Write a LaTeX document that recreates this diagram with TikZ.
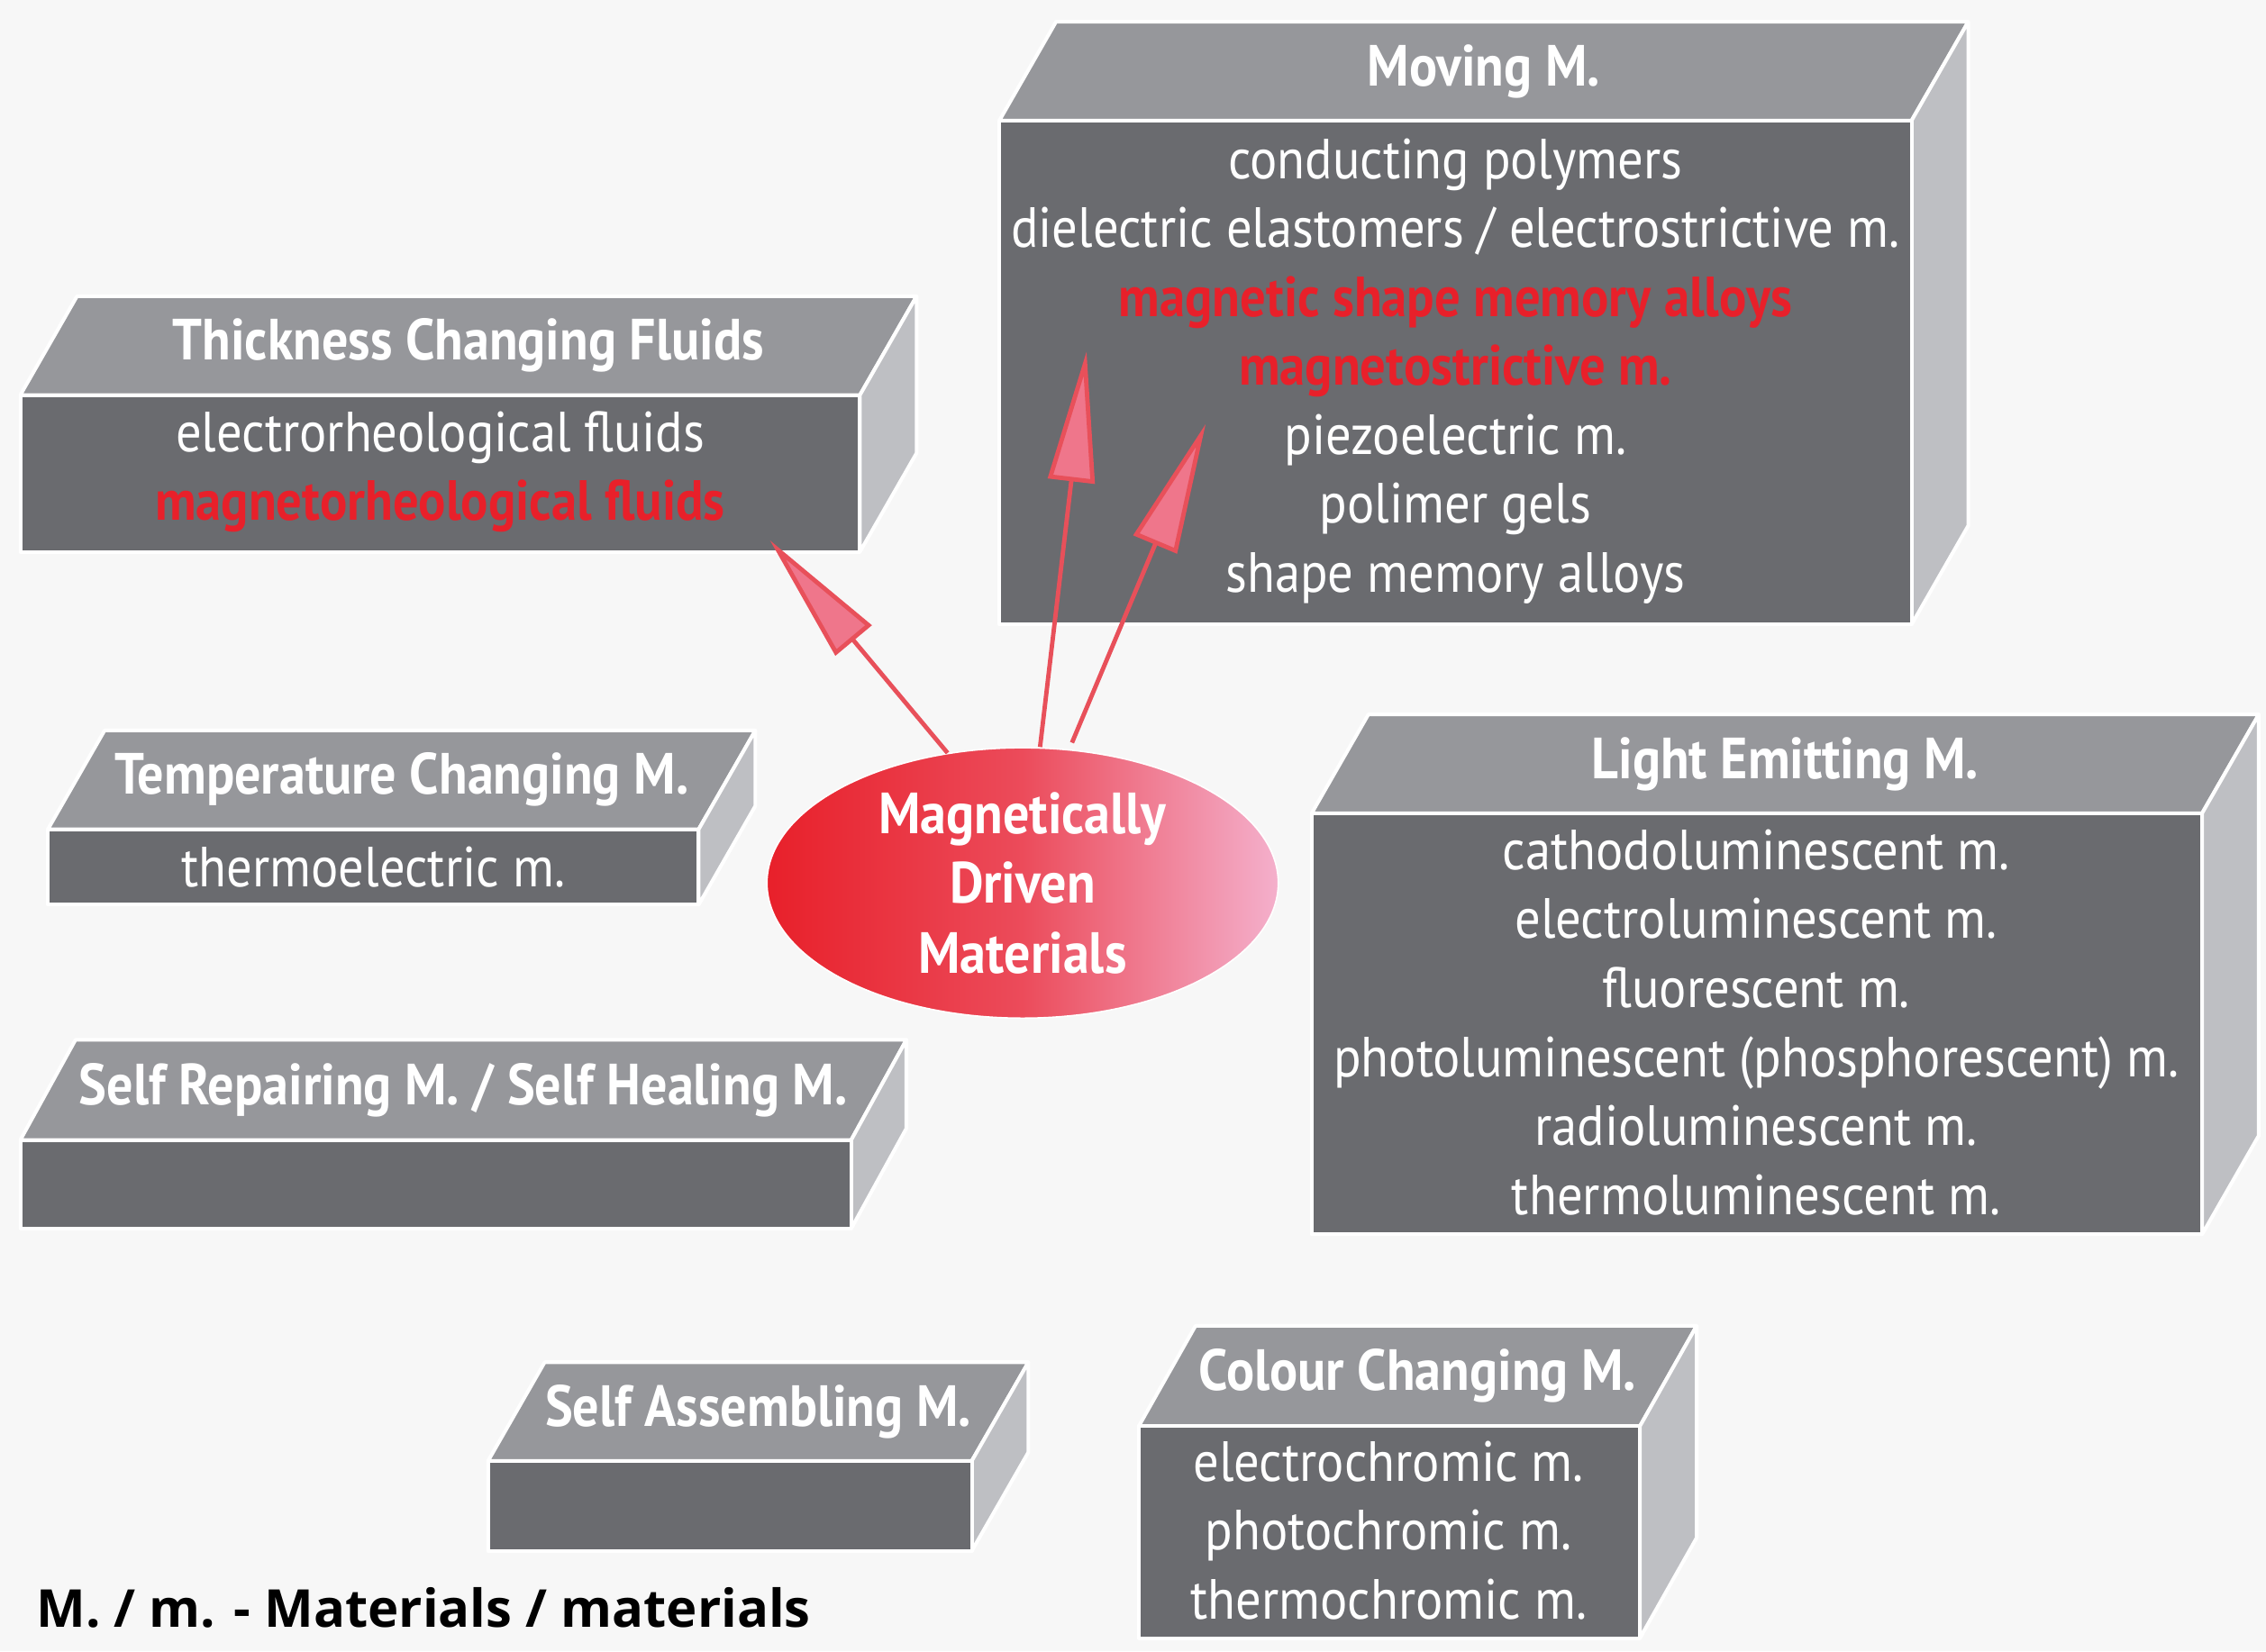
\documentclass[tikz,border=0pt]{standalone}
\usepackage{fontspec}
\setmainfont{PT Sans}[FakeStretch=0.9]
\newfontfamily\foot{Open Sans}
\usetikzlibrary{arrows.meta,shapes.geometric}
\definecolor{bg}{RGB}{247,247,247}
\definecolor{fr}{RGB}{106,107,111}
\definecolor{tp}{RGB}{150,151,155}
\definecolor{sd}{RGB}{190,191,195}
\definecolor{rd}{RGB}{232,32,42}
\definecolor{pk}{RGB}{244,176,204}
\definecolor{ar}{RGB}{232,80,90}
\tikzset{x=1pt,y=-1pt,
 face/.style={draw=white,line width=2.5pt,line join=round},
 ttl/.style={text=white,font=\fontsize{40}{44}\selectfont\bfseries,inner sep=0},
 bdy/.style={text=white,font=\fontsize{39}{47.5}\selectfont,align=center,inner sep=0},
 arr/.style={draw=ar,line width=3pt,-{Triangle[length=90pt,width=32pt,fill=pk!60!rd,color=ar]}}}
\newcommand{\mybox}[7]{%
 \fill[tp,face] (#1,#2)--(#1+#5,#2+#6)--(#3+#5,#2+#6)--(#3,#2)--cycle;
 \fill[sd,face] (#3,#2)--(#3+#5,#2+#6)--(#3+#5,#4+#6)--(#3,#4)--cycle;
 \fill[fr,face] (#1,#2) rectangle (#3,#4);
 \node[ttl] (#7t) at ({(#1+#3+#5)/2},{#2+#6/2}) {};
 \coordinate (#7f) at ({(#1+#3)/2},{(#2+#4)/2});}
\begin{document}
\begin{tikzpicture}
\useasboundingbox[fill=bg] (0,0) rectangle (1560,1137);
\mybox{688}{83}{1316}{430}{39}{-68}{mov}
\node[ttl] at (movt) {Moving M.};
\node[bdy,anchor=north] (movb) at (1002,95) {conducting polymers\\dielectric elastomers / electrostrictive m.\\\textcolor{rd}{\bfseries magnetic shape memory alloys}\\\textcolor{rd}{\bfseries magnetostrictive m.}\\piezoelectric m.\\polimer gels\\shape memory alloys};
\mybox{14}{272}{592}{380}{39}{-68}{thk}
\node[ttl] at (thkt) {Thickness Changing Fluids};
\node[bdy,anchor=north] (thkb) at (303,283) {electrorheological fluids\\\textcolor{rd}{\bfseries magnetorheological fluids}};
\mybox{33}{571}{481}{623}{39}{-68}{tmp}
\node[ttl] at (tmpt) {Temperature Changing M.};
\node[bdy] (tmpb) at (tmpf) {thermoelectric m.};
\mybox{14}{785}{586}{846}{38}{-69}{rep}
\node[ttl] at (rept) {Self Repairing M. / Self Healing M.};
\mybox{903}{560}{1516}{850}{39}{-68}{lig}
\node[ttl] at (ligt) {Light Emitting M.};
\node[bdy,anchor=north] (ligb) at (1209,571) {cathodoluminescent m.\\electroluminescent m.\\fluorescent m.\\photoluminescent (phosphorescent) m.\\radioluminescent m.\\thermoluminescent m.};
\mybox{336}{1006}{669}{1068}{39}{-68}{asm}
\node[ttl] at (asmt) {Self Assembling M.};
\mybox{784}{982}{1129}{1128}{39}{-69}{col}
\node[ttl] at (colt) {Colour Changing M.};
\node[bdy,anchor=north] (colb) at (956,992) {electrochromic m.\\photochromic m.\\thermochromic m.};
\node[ellipse,minimum width=352pt,minimum height=176pt,left color=rd,right color=pk,middle color=rd!70!pk,draw=white,line width=1pt,
 text=white,align=center,font=\fontsize{40}{48}\selectfont\bfseries] (mdm) at (704,608) {Magnetically\\Driven\\Materials};
\coordinate (a1) at (530,372);
\coordinate (a2) at (748,242);
\coordinate (a3) at (830,292);
\draw[arr] (mdm.120) -- (a1);
\draw[arr] ([xshift=12pt]mdm.north) -- (a2);
\draw[arr] ([xshift=34pt,yshift=3pt]mdm.north) -- (a3);
\node[anchor=west,font=\foot\fontsize{36}{40}\selectfont\bfseries,inner sep=0] (leg) at (25,1107) {M. / m. - Materials / materials};
\end{tikzpicture}
\end{document}
